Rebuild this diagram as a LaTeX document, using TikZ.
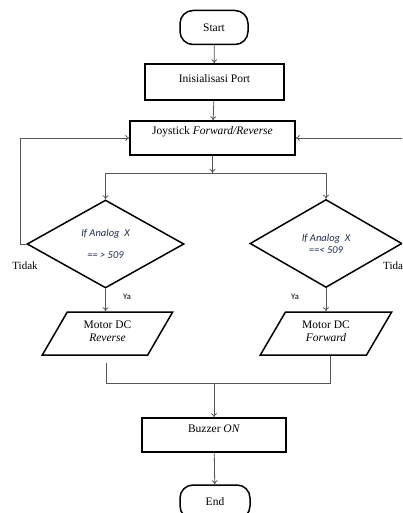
\documentclass[tikz,border=0pt]{standalone}
\usepackage{fontspec}
\setmainfont{Liberation Serif}
\newfontfamily\calib{Carlito}
\usetikzlibrary{shapes.geometric,arrows.meta}
\definecolor{conncol}{HTML}{555555}
\definecolor{navy}{HTML}{1F2D4D}
\tikzset{
  boxline/.style={draw=black, line width=1.5pt, fill=white, inner sep=0pt, font=\fontsize{11.5}{13}\selectfont},
  procbox/.style={boxline, rectangle},
  termbox/.style={boxline, rectangle, rounded corners=13pt},
  decbox/.style={boxline, diamond, aspect=1.8, font=\calib\itshape\fontsize{10.5}{12}\selectfont, text=navy},
  iobox/.style={boxline, trapezium, trapezium left angle=59, trapezium right angle=121, trapezium stretches=true, align=center},
  conn/.style={draw=conncol, line width=0.8pt},
  arr/.style={conn, -{To[length=4pt,width=6pt]}},
  lbl/.style={font=\fontsize{11}{13}\selectfont, inner sep=0pt},
  yalbl/.style={font=\calib\fontsize{8.5}{10}\selectfont, inner sep=0pt}
}
\begin{document}
\begin{tikzpicture}[x=1pt,y=-1pt]
\useasboundingbox (0,0) rectangle (402,513);
\clip (0,0) rectangle (402,513);
\node[termbox, minimum width=68pt, minimum height=34pt] (start) at (214,27.5) {Start};
\node[procbox, minimum width=139pt, minimum height=36pt, text depth=6pt] (init) at (214.5,82) {Inisialisasi Port};
\node[procbox, minimum width=165pt, minimum height=34pt, text depth=14.5pt] (joy) at (212.5,138) {Joystick \textit{Forward/Reverse}};
\coordinate (split) at (212.5,173);
\node[decbox, minimum width=157pt, minimum height=88pt, align=center] (d1) at (105.5,244) {If Analog\ \ X\\[10pt]== > 509};
\node[decbox, minimum width=152pt, minimum height=88pt, align=center] (d2) at (326,243.5) {If Analog\ \ X\\[0pt]==< 509};
\node[iobox, minimum width=131pt, minimum height=43pt, text depth=4pt] (rev) at (107.5,333.5) {Motor DC\\\textit{Reverse}};
\node[iobox, minimum width=132pt, minimum height=43pt, text depth=4pt] (fwd) at (326,333.5) {Motor DC\\\textit{Forward}};
\coordinate (merge) at (214,383);
\node[procbox, minimum width=144pt, minimum height=34pt, text depth=12pt] (buz) at (214,435) {Buzzer \textit{ON}};
\node[termbox, minimum width=70pt, minimum height=34pt] (end) at (215,502) {End};
\node[lbl] (t1) at (25,266) {Tidak};
\node[lbl, anchor=west] (t2) at (383,266) {Tidak};
\node[yalbl] (y1) at (127,297) {Ya};
\node[yalbl] (y2) at (295,297) {Ya};
% connectors
\draw[arr] (start) -- (init);
\draw[arr] (init) -- (joy);
\draw[arr] (joy) -- (split);
\draw[conn] (split -| d1.north) -- (split -| d2.north);
\draw[arr] (split -| d1.north) -- (d1.north);
\draw[arr] (split -| d2.north) -- (d2.north);
\draw[arr] (d1.west) -- ++(-6,0) |- (joy.west);
\draw[arr] (d2.east) -- ++(12,0) |- (joy.east);
\draw[arr] (d1.south) -- (rev.north -| d1.south);
\draw[arr] (d2.south) -- (fwd.north -| d2.south);
\draw[conn] ([yshift=-7pt]rev.south -| 106,0) -- (106,383) -- (330,383) -- (fwd.south -| 330,0);
\draw[arr] (merge) -- (buz);
\draw[arr] (buz) -- (end);
\end{tikzpicture}
\end{document}
